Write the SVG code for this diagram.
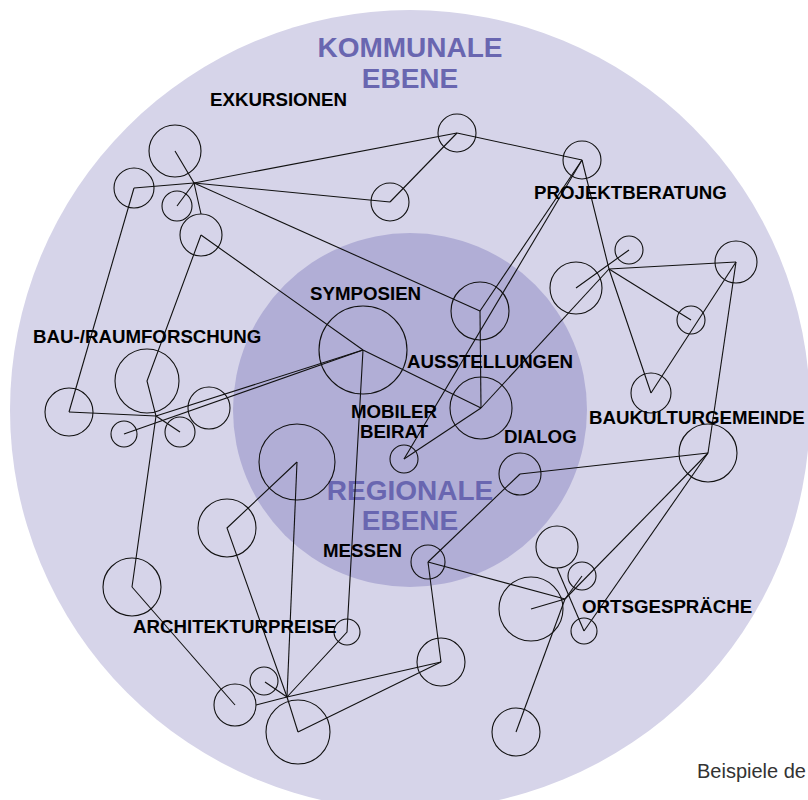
<svg xmlns="http://www.w3.org/2000/svg" width="808" height="800" viewBox="0 0 808 800">
<style>
.n{fill:none;stroke:#111;stroke-width:1.1}
.c line,.c polyline{fill:none;stroke:#111;stroke-width:1.1}
.lb{font-family:"Liberation Sans",Arial,sans-serif;font-weight:bold;font-size:18.7px;fill:#000}
.tt{font-family:"Liberation Sans",Arial,sans-serif;font-weight:bold;font-size:28px;fill:#6966b0;text-anchor:middle}
</style>
<rect width="808" height="800" fill="#fff"/>
<circle cx="410" cy="410" r="400" fill="#d6d4e9"/>
<circle cx="410" cy="410" r="177" fill="#b1aed6"/>
<g id="titles">
<text class="tt" x="410" y="57">KOMMUNALE</text>
<text class="tt" x="410" y="88">EBENE</text>
<text class="tt" x="410" y="500">REGIONALE</text>
<text class="tt" x="410" y="530">EBENE</text>
</g>
<g class="c" id="connectors">
<polyline points="175,151 194,183 201,214"/>
<line x1="134" y1="188" x2="194" y2="183"/>
<line x1="177" y1="206" x2="194" y2="183"/>
<line x1="194" y1="183" x2="457" y2="133"/>
<line x1="194" y1="183" x2="390" y2="202"/>
<line x1="390" y1="202" x2="457" y2="133"/>
<line x1="457" y1="133" x2="582" y2="160"/>
<line x1="194" y1="183" x2="480" y2="311"/>
<line x1="134" y1="188" x2="69" y2="412"/>
<line x1="69" y1="412" x2="156" y2="416"/>
<polyline points="201,235 147,381 156,416 132,587"/>
<polyline points="201,235 363,350 481,408"/>
<line x1="363" y1="350" x2="156" y2="416"/>
<line x1="124" y1="434" x2="363" y2="350"/>
<line x1="156" y1="416" x2="180" y2="432"/>
<polyline points="363,350 347,632 287,697"/>
<line x1="582" y1="160" x2="480" y2="311"/>
<line x1="582" y1="160" x2="404" y2="459"/>
<line x1="480" y1="311" x2="481" y2="408"/>
<line x1="481" y1="408" x2="404" y2="459"/>
<line x1="481" y1="408" x2="609" y2="269"/>
<line x1="576" y1="288" x2="629" y2="250"/>
<polyline points="582,160 609,269 651,393"/>
<line x1="609" y1="269" x2="736" y2="262"/>
<line x1="609" y1="269" x2="691" y2="320"/>
<line x1="651" y1="393" x2="736" y2="262"/>
<line x1="736" y1="262" x2="708" y2="453"/>
<line x1="708" y1="453" x2="520" y2="474"/>
<line x1="520" y1="474" x2="428" y2="562"/>
<line x1="428" y1="562" x2="565" y2="599"/>
<line x1="708" y1="453" x2="565" y2="599"/>
<line x1="582" y1="576" x2="565" y2="599"/>
<line x1="531" y1="609" x2="565" y2="599"/>
<line x1="565" y1="599" x2="516" y2="732"/>
<line x1="557" y1="568" x2="584" y2="631"/>
<line x1="584" y1="631" x2="708" y2="453"/>
<line x1="428" y1="562" x2="441" y2="662"/>
<line x1="441" y1="662" x2="287" y2="697"/>
<line x1="441" y1="662" x2="298" y2="732"/>
<line x1="287" y1="697" x2="298" y2="732"/>
<line x1="287" y1="697" x2="265" y2="682"/>
<line x1="287" y1="697" x2="256" y2="705"/>
<line x1="132" y1="587" x2="235" y2="705"/>
<polyline points="287,697 227,528 297,462"/>
<line x1="297" y1="462" x2="287" y2="697"/>
</g>
<g id="n-exk-a"><circle class="n" cx="175" cy="151" r="26"/></g>
<g id="n-exk-b"><circle class="n" cx="134" cy="188" r="20"/></g>
<g id="n-exk-c"><circle class="n" cx="177" cy="206" r="15"/></g>
<g id="n-exk-d"><circle class="n" cx="201" cy="235" r="21"/></g>
<g id="n-top-e"><circle class="n" cx="390" cy="202" r="19"/></g>
<g id="n-top-t"><circle class="n" cx="457" cy="133" r="19"/></g>
<g id="n-proj"><circle class="n" cx="582" cy="160" r="19"/></g>
<g id="n-p1"><circle class="n" cx="629" cy="250" r="14"/></g>
<g id="n-p2"><circle class="n" cx="576" cy="288" r="26"/></g>
<g id="n-p3"><circle class="n" cx="736" cy="262" r="21"/></g>
<g id="n-p4"><circle class="n" cx="691" cy="320" r="14"/></g>
<g id="n-p5"><circle class="n" cx="651" cy="393" r="20"/></g>
<g id="n-aus-top"><circle class="n" cx="480" cy="311" r="29"/></g>
<g id="n-aus-low"><circle class="n" cx="481" cy="408" r="31"/></g>
<g id="n-sym"><circle class="n" cx="363" cy="350" r="44"/></g>
<g id="n-mob"><circle class="n" cx="404" cy="459" r="14"/></g>
<g id="n-bau-l"><circle class="n" cx="69" cy="412" r="24"/></g>
<g id="n-bau-big"><circle class="n" cx="147" cy="381" r="32"/></g>
<g id="n-bau-r"><circle class="n" cx="209" cy="408" r="21"/></g>
<g id="n-bau-s1"><circle class="n" cx="124" cy="434" r="13"/></g>
<g id="n-bau-s2"><circle class="n" cx="180" cy="432" r="15"/></g>
<g id="n-bauk"><circle class="n" cx="708" cy="453" r="29"/></g>
<g id="n-dialog"><circle class="n" cx="520" cy="474" r="21"/></g>
<g id="n-messen"><circle class="n" cx="428" cy="562" r="17"/></g>
<g id="n-reg-big"><circle class="n" cx="297" cy="462" r="38"/></g>
<g id="n-reg-l"><circle class="n" cx="227" cy="528" r="29"/></g>
<g id="n-arch-l"><circle class="n" cx="132" cy="587" r="29"/></g>
<g id="n-sym-small"><circle class="n" cx="347" cy="632" r="13"/></g>
<g id="n-arch-small"><circle class="n" cx="264" cy="681" r="14"/></g>
<g id="n-arch-ll"><circle class="n" cx="235" cy="705" r="21"/></g>
<g id="n-arch-bottom"><circle class="n" cx="298" cy="732" r="32"/></g>
<g id="n-arch-right"><circle class="n" cx="441" cy="662" r="24"/></g>
<g id="n-orts-big"><circle class="n" cx="531" cy="609" r="32"/></g>
<g id="n-orts-top"><circle class="n" cx="557" cy="547" r="21"/></g>
<g id="n-orts-s1"><circle class="n" cx="582" cy="576" r="14"/></g>
<g id="n-orts-s2"><circle class="n" cx="584" cy="631" r="13"/></g>
<g id="n-orts-bottom"><circle class="n" cx="516" cy="732" r="24"/></g>
<g id="labels">
<text class="lb" x="210" y="106">EXKURSIONEN</text>
<text class="lb" x="534" y="199">PROJEKTBERATUNG</text>
<text class="lb" x="310" y="300">SYMPOSIEN</text>
<text class="lb" x="33" y="343">BAU-/RAUMFORSCHUNG</text>
<text class="lb" x="407" y="368">AUSSTELLUNGEN</text>
<text class="lb" x="394" y="418" text-anchor="middle">MOBILER</text>
<text class="lb" x="394" y="438" text-anchor="middle">BEIRAT</text>
<text class="lb" x="504" y="443">DIALOG</text>
<text class="lb" x="589" y="424">BAUKULTURGEMEINDE</text>
<text class="lb" x="323" y="557">MESSEN</text>
<text class="lb" x="582" y="613">ORTSGESPRÄCHE</text>
<text class="lb" x="133" y="633">ARCHITEKTURPREISE</text>
</g>
<text x="697" y="778" font-family="'Liberation Sans',Arial,sans-serif" font-size="20" fill="#333">Beispiele de</text>
</svg>
